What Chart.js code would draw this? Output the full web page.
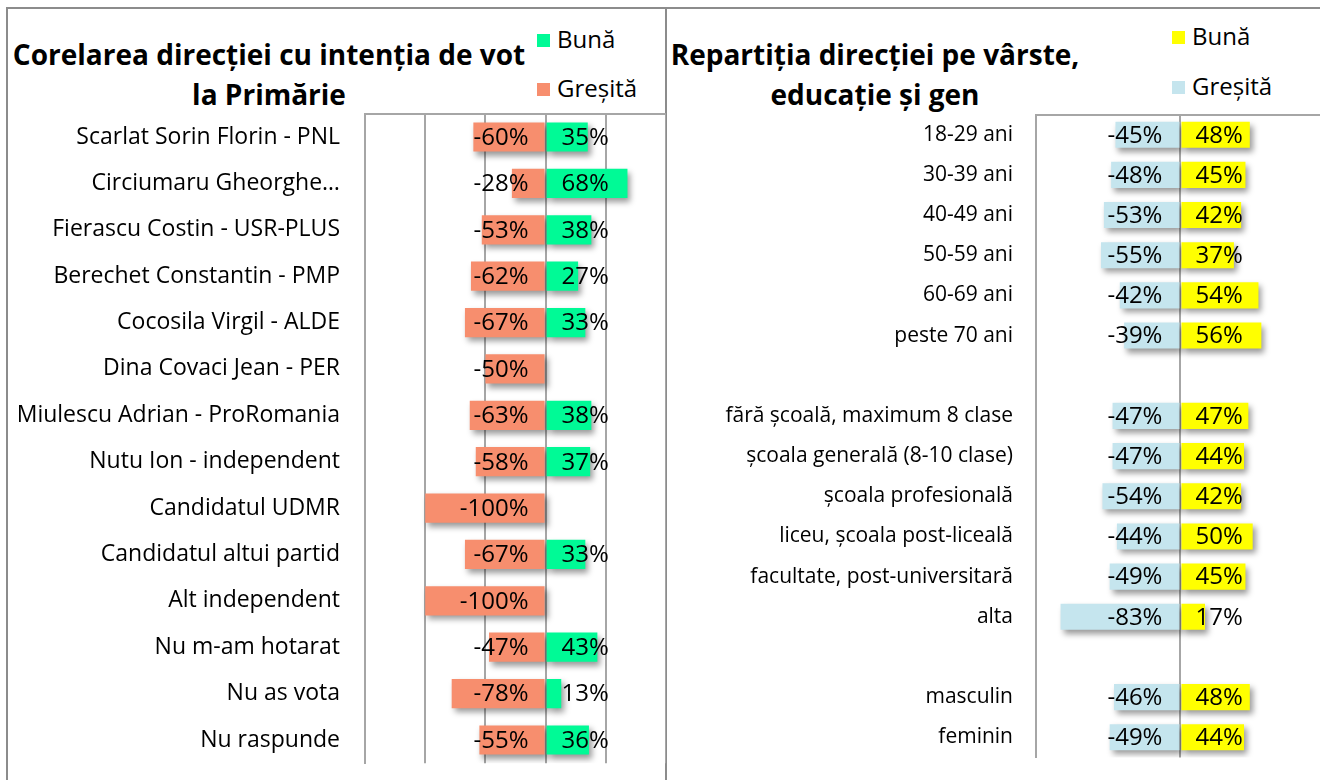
<!DOCTYPE html>
<html>
<head>
<meta charset="utf-8">
<script src="https://cdn.jsdelivr.net/npm/chart.js@4.4.1/dist/chart.umd.min.js"></script>
<style>
  body { margin: 0; width: 1320px; height: 780px; overflow: hidden; background: #fff; font-family: 'Open Sans', sans-serif; position: relative; }
  .panou { position: absolute; border: 2px solid #8c8c8c; border-bottom: none; box-sizing: border-box; }
  .titlu { position: absolute; font-weight: bold; font-size: 28px; line-height: 40px; text-align: center; color: #000; white-space: nowrap; }
  .legenda { position: absolute; font-size: 24px; color: #000; }
  .legenda div { position: absolute; left: 0; white-space: nowrap; line-height: 30px; }
  .legenda span { display: inline-block; width: 13px; height: 13px; margin-right: 7px; vertical-align: 1px; }
  .grafic { position: absolute; }
</style>
</head>
<body>
<div class="panou" style="left:6px;top:7px;width:661px;height:800px;"></div>
<div class="panou" style="left:665px;top:7px;width:700px;height:800px;"></div>

<div class="titlu" style="left:8px;top:34px;width:522px;">Corelarea direcției cu intenția de vot<br>la Primărie</div>
<div class="legenda" style="left:537px;top:24px;">
  <div style="top:0;"><span id="sq1"></span>Bună</div>
  <div style="top:49px;"><span id="sq2"></span>Greșită</div>
</div>

<div class="titlu" style="left:668px;top:34px;width:414px;">Repartiția direcției pe vârste,<br>educație și gen</div>
<div class="legenda" style="left:1172px;top:21px;">
  <div style="top:0;"><span id="sq3"></span>Bună</div>
  <div style="top:50px;"><span id="sq4"></span>Greșită</div>
</div>

<!-- wrapper-ele sunt mai inalte: axa y adauga padding sus/jos (jumatate din eticheta + ticks.padding) -->
<div class="grafic" style="left:0;top:75px;width:666px;height:727px;"><canvas id="stanga"></canvas></div>
<div class="grafic" style="left:666px;top:79px;width:654px;height:714px;"><canvas id="dreapta"></canvas></div>

<script>
Chart.defaults.font.family = "'Open Sans', sans-serif";
Chart.defaults.color = '#000';

// culori
const verde = '#00fa96';
const somon = '#f78e6e';
const galben = '#ffff00';
const bleu = '#c5e5ee';
const gri = '#a6a6a6';

// date - stanga
const candidati = [
  'Scarlat Sorin Florin - PNL',
  'Circiumaru Gheorghe…',
  'Fierascu Costin - USR-PLUS',
  'Berechet Constantin - PMP',
  'Cocosila Virgil - ALDE',
  'Dina Covaci Jean - PER',
  'Miulescu Adrian - ProRomania',
  'Nutu Ion - independent',
  'Candidatul UDMR',
  'Candidatul altui partid',
  'Alt independent',
  'Nu m-am hotarat',
  'Nu as vota',
  'Nu raspunde'
];
const bunaCandidati = [0.35, 0.68, 0.38, 0.27, 0.33, null, 0.38, 0.37, null, 0.33, null, 0.43, 0.13, 0.36];
const gresitaCandidati = [-0.60, -0.28, -0.53, -0.62, -0.67, -0.50, -0.63, -0.58, -1.00, -0.67, -1.00, -0.47, -0.78, -0.55];

// date - dreapta
const grupe = [
  '18-29 ani', '30-39 ani', '40-49 ani', '50-59 ani', '60-69 ani', 'peste 70 ani',
  '',
  'fără școală, maximum 8 clase', 'școala generală (8-10 clase)', 'școala profesională',
  'liceu, școala post-liceală', 'facultate, post-universitară', 'alta',
  '',
  'masculin', 'feminin'
];
const bunaGrupe = [0.48, 0.45, 0.42, 0.37, 0.54, 0.56, null, 0.47, 0.44, 0.42, 0.50, 0.45, 0.17, null, 0.48, 0.44];
const gresitaGrupe = [-0.45, -0.48, -0.53, -0.55, -0.42, -0.39, null, -0.47, -0.47, -0.54, -0.44, -0.49, -0.83, null, -0.46, -0.49];

document.getElementById('sq1').style.background = verde;
document.getElementById('sq2').style.background = somon;
document.getElementById('sq3').style.background = galben;
document.getElementById('sq4').style.background = bleu;

// umbra sub bare (ca in Excel)
const umbra = {
  id: 'umbra',
  beforeDatasetsDraw(chart) {
    const c = chart.ctx;
    c.save();
    c.shadowColor = 'rgba(0,0,0,0.4)';
    c.shadowBlur = 6;
    c.shadowOffsetX = 3;
    c.shadowOffsetY = 4;
  },
  afterDatasetsDraw(chart) { chart.ctx.restore(); }
};

// etichete cu procente langa axa zero
const etichete = {
  id: 'etichete',
  afterDatasetsDraw(chart, args, opts) {
    const ctx = chart.ctx;
    const x0 = chart.scales.x.getPixelForValue(0);
    ctx.save();
    ctx.font = opts.font;
    ctx.fillStyle = '#000';
    ctx.textBaseline = 'middle';
    chart.data.datasets.forEach((ds, i) => {
      chart.getDatasetMeta(i).data.forEach((bar, j) => {
        const v = ds.data[j];
        if (v == null) return;
        const txt = Math.round(v * 100) + '%';
        if (v < 0) {
          ctx.textAlign = 'right';
          ctx.fillText(txt, x0 - opts.gapNeg, bar.y + 1);
        } else {
          ctx.textAlign = 'left';
          ctx.fillText(txt, x0 + opts.gapPos, bar.y + 1);
        }
      });
    });
    ctx.restore();
  }
};

function optiuni(cfg) {
  return {
    indexAxis: 'y',
    responsive: true,
    maintainAspectRatio: false,
    animation: false,
    layout: { padding: 0 },
    plugins: {
      legend: { display: false },
      tooltip: { enabled: false },
      etichete: { font: cfg.valFont, gapNeg: cfg.gapNeg, gapPos: cfg.gapPos }
    },
    scales: {
      x: {
        position: 'top',
        stacked: true,
        min: cfg.min,
        max: cfg.max,
        ticks: { display: false, stepSize: 0.5 },
        grid: {
          drawTicks: false,
          lineWidth: 2,
          color: cfg.gridColor
        },
        border: { display: true, color: gri, width: 2 },
        afterFit: s => { s.height = 2; }
      },
      y: {
        stacked: true,
        grid: { display: false, drawTicks: false },
        border: { display: true, color: gri, width: 2 },
        ticks: { autoSkip: false, padding: cfg.pad, font: { size: cfg.labelSize } },
        afterFit: s => { s.width = cfg.axisW; }
      }
    }
  };
}

new Chart(document.getElementById('stanga'), {
  type: 'bar',
  data: {
    labels: candidati,
    datasets: [
      { label: 'Bună', data: bunaCandidati, backgroundColor: verde, barPercentage: 0.63, categoryPercentage: 1 },
      { label: 'Greșită', data: gresitaCandidati, backgroundColor: somon, barPercentage: 0.63, categoryPercentage: 1 }
    ]
  },
  options: optiuni({
    min: -1.5, max: 1.0, axisW: 365, pad: 25, labelSize: 23,
    valFont: "24px 'Open Sans', sans-serif", gapNeg: 17, gapPos: 16,
    gridColor: gri
  }),
  plugins: [umbra, etichete]
});

new Chart(document.getElementById('dreapta'), {
  type: 'bar',
  data: {
    labels: grupe,
    datasets: [
      { label: 'Bună', data: bunaGrupe, backgroundColor: galben, barPercentage: 0.65, categoryPercentage: 1 },
      { label: 'Greșită', data: gresitaGrupe, backgroundColor: bleu, barPercentage: 0.65, categoryPercentage: 1 }
    ]
  },
  options: optiuni({
    min: -1.0, max: 0.966, axisW: 370, pad: 23, labelSize: 21,
    valFont: "24px 'Open Sans', sans-serif", gapNeg: 18, gapPos: 15,
    gridColor: c => (c.tick && c.tick.value === 0 ? gri : 'rgba(0,0,0,0)')
  }),
  plugins: [umbra, etichete]
});
</script>
</body>
</html>
